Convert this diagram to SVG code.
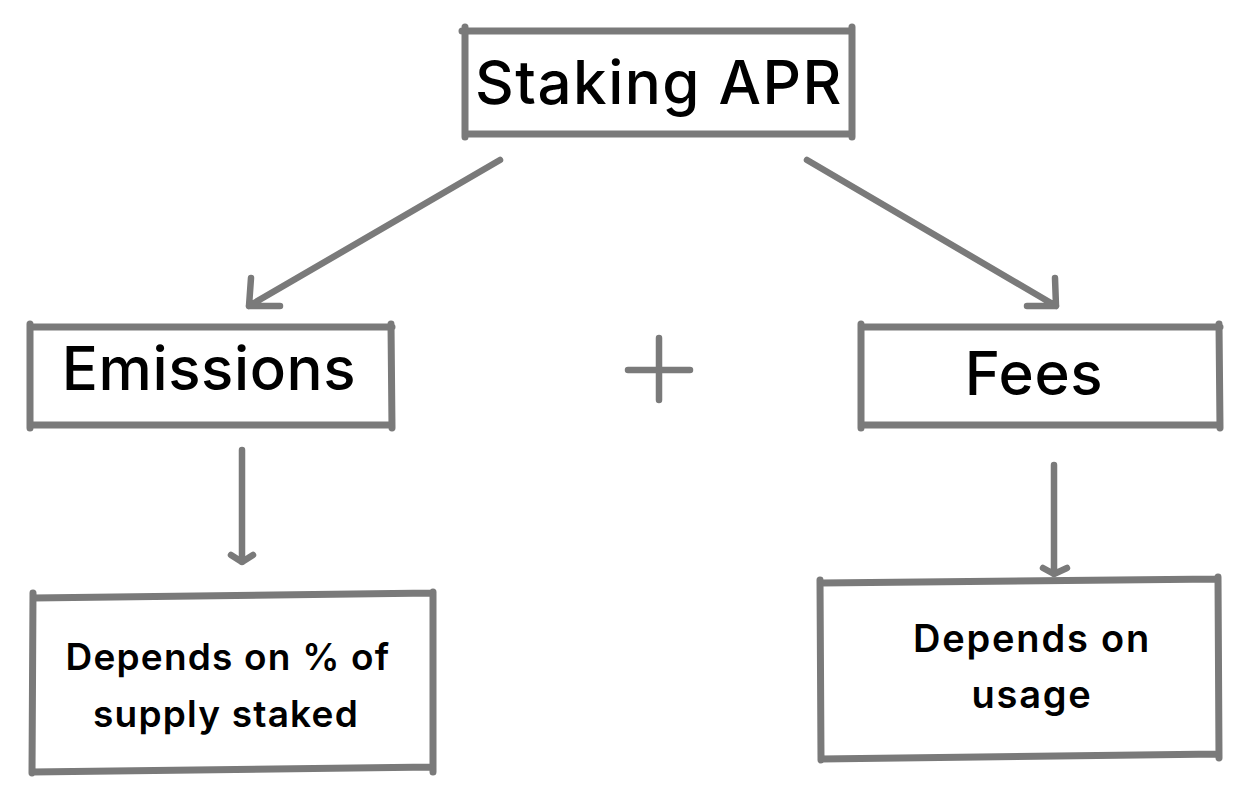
<svg xmlns="http://www.w3.org/2000/svg" width="1260" height="802" viewBox="0 0 1260 802">
<style>
.box{fill:none;stroke:#7a7a7a;stroke-width:7;stroke-linecap:round;stroke-linejoin:round}
.ln{fill:none;stroke:#7a7a7a;stroke-width:6.5;stroke-linecap:round;stroke-linejoin:round}
.t{font-family:Inter,"Noto Sans","Liberation Sans",sans-serif;fill:#000;text-anchor:middle;font-weight:500}
.big{font-size:60px;letter-spacing:0.6px}
.small{font-size:37px;letter-spacing:1.2px;font-weight:600}
.small2{font-size:38px;letter-spacing:1.8px;font-weight:600}
</style>
<rect width="1260" height="802" fill="#fff"/>
<g id="staking-apr">
<path class="box" d="M465 27 L465 137 M462 31 L852 31 M852 27 L852 137 M465 134 L852 134"/>
<text class="t big" x="659" y="104" style="letter-spacing:1.5px">Staking APR</text>
</g>
<g id="emissions">
<path class="box" d="M30 324 L30 428 M30 327 L392 327 M391 324 L392 428 M30 425 L392 425"/>
<text class="t big" x="209" y="390">Emissions</text>
</g>
<g id="fees">
<path class="box" d="M861 324 L861 428 M861 327 L1220 327 M1219 324 L1220 428 M861 425 L1220 425"/>
<text class="t big" x="1034" y="395">Fees</text>
</g>
<g id="emissions-detail">
<path class="box" d="M33 593 L32 773 M33 598 L433 593 M433 592 L433 772 M32 772 L433 767"/>
<text class="t small" x="228" y="670">Depends on % of</text>
<text class="t small" x="226" y="727">supply staked</text>
</g>
<g id="fees-detail">
<path class="box" d="M820 580 L821 760 M821 583 L1218 579 M1218 577 L1219 758 M821 759 L1219 754"/>
<text class="t small2" x="1032" y="652">Depends on</text>
<text class="t small2" x="1032" y="708">usage</text>
</g>
<g id="plus">
<path class="ln" d="M628 370 L690 370 M659 338 L659 400"/>
</g>
<g id="connectors">
<path class="ln" d="M500 160 L249 306 M251 278 L249 306 L280 306"/>
<path class="ln" d="M807 160 L1056 306 M1055 278 L1056 306 L1027 306"/>
<path class="ln" d="M242 450 L242 562 M231 555 L242 562 L253 555"/>
<path class="ln" d="M1054 465 L1054 574 M1043 568 L1054 574 L1067 568"/>
</g>
</svg>
